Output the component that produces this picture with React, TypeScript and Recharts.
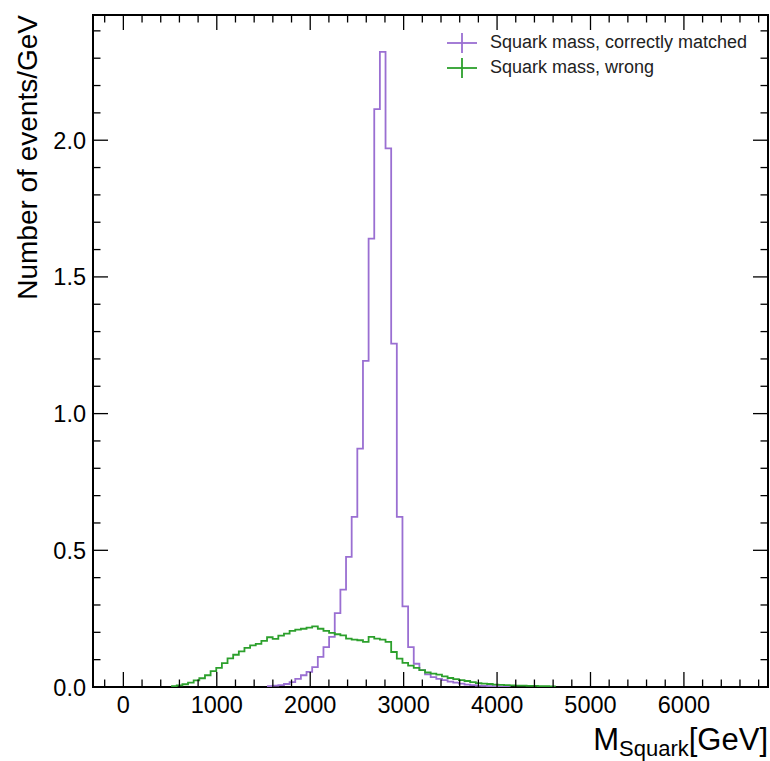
import { LineChart, Line, XAxis, YAxis, ReferenceArea } from 'recharts';

// histogram binning (GeV)
const BIN_START = 511;
const BIN_WIDTH = 60.4;

// events/GeV per bin, null = bin not drawn
const correctlyMatched = [
  null, null, null, null, null, null, null, null, null, null,
  null, null, null, null, null, null, null, 0.003, 0.005, 0.007,
  0.011, 0.018, 0.03, 0.043, 0.055, 0.073, 0.11, 0.146, 0.183, 0.27,
  0.356, 0.476, 0.622, 0.872, 1.193, 1.64, 2.114, 2.323, 1.97, 1.256,
  0.622, 0.295, 0.146, 0.085, 0.062, 0.046, 0.036, 0.03, 0.025, 0.02,
  0.016, 0.012, 0.009, 0.007, 0.005, 0.004, 0.003, 0.002, 0.001, 0.001,
  0, null, null, null, null, null, null, null, null,
];

const wrongMatched = [
  0.003, 0.006, 0.01, 0.016, 0.024, 0.032, 0.043, 0.058, 0.07, 0.087,
  0.105, 0.118, 0.13, 0.143, 0.152, 0.158, 0.169, 0.182, 0.176, 0.188,
  0.195, 0.205, 0.21, 0.213, 0.217, 0.222, 0.213, 0.205, 0.198, 0.193,
  0.189, 0.177, 0.173, 0.171, 0.165, 0.183, 0.177, 0.173, 0.165, 0.128,
  0.104, 0.088, 0.078, 0.07, 0.062, 0.053, 0.049, 0.045, 0.039, 0.033,
  0.029, 0.025, 0.022, 0.018, 0.014, 0.012, 0.011, 0.009, 0.008, 0.007,
  0.006, 0.005, 0.005, 0.004, 0.004, 0.003, 0.003, 0.002, 0,
];

const xTicks = [
  -200, 0, 200, 400, 600, 800, 1000, 1200, 1400, 1600, 1800, 2000,
  2200, 2400, 2600, 2800, 3000, 3200, 3400, 3600, 3800, 4000, 4200,
  4400, 4600, 4800, 5000, 5200, 5400, 5600, 5800, 6000, 6200, 6400,
  6600, 6800,
];
const yTicks = [
  0, 0.1, 0.2, 0.3, 0.4, 0.5, 0.6, 0.7, 0.8, 0.9, 1.0, 1.1, 1.2,
  1.3, 1.4, 1.5, 1.6, 1.7, 1.8, 1.9, 2.0, 2.1, 2.2, 2.3, 2.4,
];

const series = [
  { key: 'correct', label: 'Squark mass, correctly matched', color: '#9a6fd2' },
  { key: 'wrong', label: 'Squark mass, wrong', color: '#2ca02c' },
];

const rows = correctlyMatched.map((c, i) => ({
  x: BIN_START + i * BIN_WIDTH,
  correct: c,
  wrong: wrongMatched[i],
}));

const X_DOMAIN = [-325, 6900];
const Y_DOMAIN = [0, 2.458];

const W = 770;
const H = 761;
const TOP = 15;
const LEFT_W = 93;
const BOTTOM_H = 74;
const PLOT_BOTTOM = H - BOTTOM_H;
const PLOT_RIGHT = W - 2;
const FONT = '"Liberation Sans", Arial, Helvetica, sans-serif';

const isMajorX = (v: number) => v % 1000 === 0;
const isMajorY = (v: number) => Math.abs(v * 2 - Math.round(v * 2)) < 1e-6;

// bottom tick + mirrored top tick, pointing inwards
const XTick = (p: any) => {
  const v = p.payload.value;
  const len = isMajorX(v) ? 15 : 7.5;
  return (
    <g>
      <line x1={p.x} x2={p.x} y1={PLOT_BOTTOM} y2={PLOT_BOTTOM - len} stroke="#000" strokeWidth={1.3} />
      <line x1={p.x} x2={p.x} y1={TOP} y2={TOP + len} stroke="#000" strokeWidth={1.3} />
      {isMajorX(v) && (
        <text x={p.x} y={PLOT_BOTTOM + 26} textAnchor="middle" fontSize={23.5} fontFamily={FONT} fill="#000">
          {v}
        </text>
      )}
    </g>
  );
};

// left tick + mirrored right tick
const YTick = (p: any) => {
  const v = p.payload.value;
  const len = isMajorY(v) ? 15 : 7.5;
  return (
    <g>
      <line x1={LEFT_W} x2={LEFT_W + len} y1={p.y} y2={p.y} stroke="#000" strokeWidth={1.3} />
      <line x1={PLOT_RIGHT} x2={PLOT_RIGHT - len} y1={p.y} y2={p.y} stroke="#000" strokeWidth={1.3} />
      {isMajorY(v) && (
        <text x={LEFT_W - 7} y={p.y + 8.5} textAnchor="end" fontSize={23.5} fontFamily={FONT} fill="#000">
          {v.toFixed(1)}
        </text>
      )}
    </g>
  );
};

const XTitle = () => (
  <text x={PLOT_RIGHT} y={750} textAnchor="end" fontFamily={FONT} fill="#000" fontSize={31}>
    <tspan>M</tspan>
    <tspan fontSize={22} dy={6}>Squark</tspan>
    <tspan dy={-6}>[GeV]</tspan>
  </text>
);

const YTitle = () => (
  <text
    x={0}
    y={0}
    transform={`translate(37, ${TOP}) rotate(-90)`}
    textAnchor="end"
    fontFamily={FONT}
    fontSize={28}
    fill="#000"
  >
    Number of events/GeV
  </text>
);

const Marker = ({ color }: { color: string }) => (
  <svg width={32} height={22} style={{ display: 'block' }}>
    <line x1={1} x2={31} y1={11} y2={11} stroke={color} strokeWidth={1.8} />
    <line x1={16} x2={16} y1={1} y2={21} stroke={color} strokeWidth={1.8} />
  </svg>
);

export default function App() {
  return (
    <div style={{ position: 'absolute', left: 0, top: 0, width: W, height: H, background: '#fff' }}>
      <LineChart width={W} height={H} data={rows} margin={{ top: TOP, right: 2, bottom: 0, left: 0 }}>
        <XAxis
          dataKey="x"
          type="number"
          domain={X_DOMAIN}
          allowDataOverflow
          ticks={xTicks}
          interval={0}
          tick={(p: any) => <XTick {...p} />}
          tickLine={false}
          axisLine={false}
          height={BOTTOM_H}
          label={{ content: () => <XTitle /> }}
        />
        <YAxis
          type="number"
          domain={Y_DOMAIN}
          allowDataOverflow
          ticks={yTicks}
          interval={0}
          tick={(p: any) => <YTick {...p} />}
          tickLine={false}
          axisLine={false}
          width={LEFT_W}
          label={{ content: () => <YTitle /> }}
        />
        {series.map((s) => (
          <Line
            key={s.key}
            dataKey={s.key}
            type="stepAfter"
            stroke={s.color}
            strokeWidth={1.8}
            dot={false}
            activeDot={false}
            connectNulls={false}
            isAnimationActive={false}
          />
        ))}
        <ReferenceArea
          x1={X_DOMAIN[0]}
          x2={X_DOMAIN[1]}
          y1={Y_DOMAIN[0]}
          y2={Y_DOMAIN[1]}
          fill="none"
          fillOpacity={0}
          stroke="#000"
          strokeWidth={2}
          ifOverflow="visible"
        />
      </LineChart>
      <div style={{ position: 'absolute', left: 446, top: 30, fontFamily: FONT, fontSize: 18, color: '#222' }}>
        {series.map((s) => (
          <div key={s.key} style={{ display: 'flex', alignItems: 'center', height: 25 }}>
            <Marker color={s.color} />
            <span style={{ marginLeft: 12 }}>{s.label}</span>
          </div>
        ))}
      </div>
    </div>
  );
}
